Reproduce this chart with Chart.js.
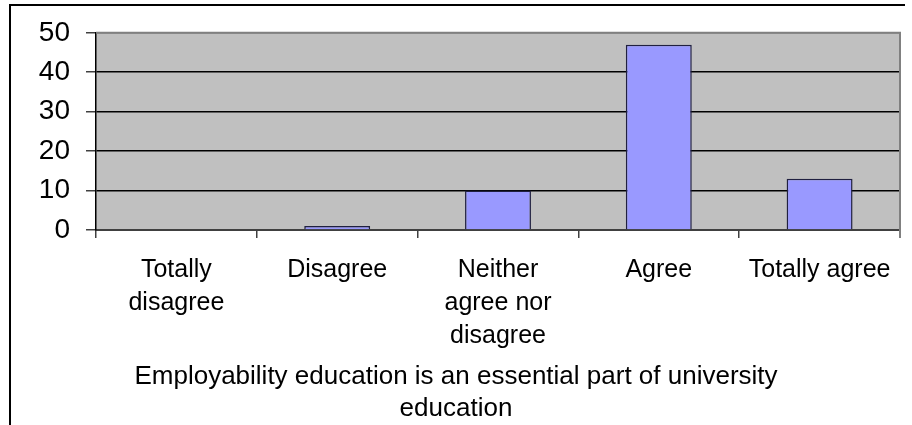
<!DOCTYPE html>
<html>
<head>
<meta charset="utf-8">
<script src="https://cdn.jsdelivr.net/npm/chart.js@4/dist/chart.umd.min.js"></script>
<style>
    html, body { margin: 0; padding: 0; background: #ffffff; }
    #wrap { position: relative; width: 912px; height: 425px; }
</style>
</head>
<body>
<div id="wrap"><canvas id="surveyChart"></canvas></div>
<script>
    // Survey answers (counts of respondents)
    var categories = [
        ["Totally", "disagree"],
        "Disagree",
        ["Neither", "agree nor", "disagree"],
        "Agree",
        "Totally agree"
    ];
    var responses = [0, 1, 10, 47, 13];
    var yTicks = [0, 10, 20, 30, 40, 50];
    var chartTitle = ["Employability education is an essential part of university", "education"];

    var FONT = "'Liberation Sans', Arial, sans-serif";

    // gray plot background, outer frame and right border of the plot area
    var framePlugin = {
        id: "frame",
        beforeDraw: function (chart) {
            var ctx = chart.ctx;
            var a = chart.chartArea;
            ctx.save();
            ctx.fillStyle = "#c0c0c0";
            ctx.fillRect(a.left, a.top, a.right - a.left, a.bottom - a.top);
            ctx.strokeStyle = "#000000";
            ctx.lineWidth = 2;
            ctx.beginPath();
            ctx.moveTo(10, 425);
            ctx.lineTo(10, 5);
            ctx.lineTo(905, 5);
            ctx.stroke();
            ctx.restore();
        },
        afterDraw: function (chart) {
            var ctx = chart.ctx;
            var a = chart.chartArea;
            ctx.save();
            ctx.strokeStyle = "#808080";
            ctx.lineWidth = 2;
            ctx.beginPath();
            ctx.moveTo(a.left, a.top);
            ctx.lineTo(a.right, a.top);
            ctx.lineTo(a.right, a.bottom + 8);
            ctx.stroke();
            ctx.restore();
        }
    };

    var ctx = document.getElementById("surveyChart").getContext("2d");
    new Chart(ctx, {
        type: "bar",
        data: {
            labels: categories,
            datasets: [{
                data: responses,
                backgroundColor: "#9999ff",
                borderColor: "#202040",
                borderWidth: 1.5,
                categoryPercentage: 1,
                barPercentage: 0.41
            }]
        },
        options: {
            responsive: true,
            maintainAspectRatio: false,
            animation: false,
            layout: { padding: { left: 12, right: 12, top: 30, bottom: 0 } },
            plugins: {
                legend: { display: false },
                tooltip: { enabled: false },
                title: {
                    display: true,
                    position: "bottom",
                    text: chartTitle,
                    color: "#000000",
                    font: { family: FONT, size: 26, weight: "normal", lineHeight: "32px" },
                    padding: { top: 0, bottom: 0 }
                }
            },
            scales: {
                x: {
                    afterFit: function (scale) { scale.height = 131; },
                    grid: {
                        offset: true,
                        drawOnChartArea: false,
                        drawTicks: true,
                        tickLength: 8,
                        tickColor: "#404040",
                        lineWidth: 1.5
                    },
                    border: { color: "#404040", width: 2 },
                    ticks: {
                        color: "#000000",
                        padding: 16,
                        maxRotation: 0,
                        autoSkip: false,
                        font: { family: FONT, size: 25, lineHeight: "33px" }
                    }
                },
                y: {
                    min: 0,
                    max: 50,
                    afterFit: function (scale) { scale.width = 84; },
                    afterBuildTicks: function (scale) {
                        scale.ticks = yTicks.map(function (v) { return { value: v }; });
                    },
                    grid: {
                        color: function (c) { return c.tick && c.tick.value === 50 ? "#808080" : "#000000"; },
                        lineWidth: 1.5,
                        tickLength: 10,
                        tickColor: "#404040"
                    },
                    border: { color: "#000000", width: 1.5 },
                    ticks: {
                        color: "#000000",
                        padding: 16,
                        font: { family: FONT, size: 28 }
                    }
                }
            }
        },
        plugins: [framePlugin]
    });
</script>
</body>
</html>
